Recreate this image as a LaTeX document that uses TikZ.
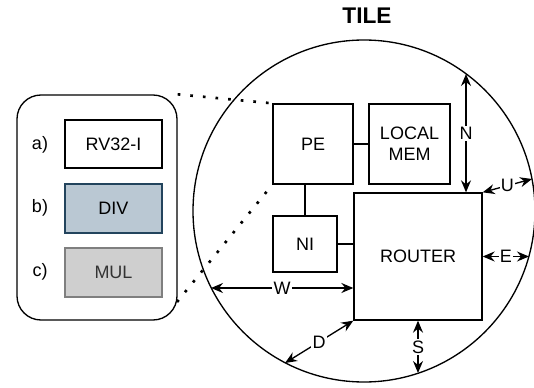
\documentclass[tikz,border=0pt]{standalone}
\usepackage{fontspec}
\setmainfont{Liberation Sans}
\usetikzlibrary{arrows.meta,calc}

\definecolor{divfill}{HTML}{BAC8D3}
\definecolor{divline}{HTML}{23445D}
\definecolor{mulfill}{HTML}{CFCFCF}
\definecolor{mulline}{HTML}{7F7F7F}
\definecolor{multext}{HTML}{333333}

\tikzset{
    blk/.style={draw, line width=1pt, inner sep=0pt, align=center},
    link/.style={line width=1pt, {Stealth[length=9pt,width=7.5pt,inset=3pt]}-{Stealth[length=9pt,width=7.5pt,inset=3pt]}},
    dir/.style={fill=white, inner sep=1pt},
    dots/.style={line width=2pt, dash pattern=on 2pt off 7.5pt}
}

\begin{document}
\begin{tikzpicture}[x=0.75pt, y=-0.75pt, font=\fontsize{13.5}{16}\selectfont]
    \useasboundingbox (0,0) rectangle (534,388);

    \node[circle, draw, line width=1pt, minimum size=256.5pt, inner sep=0pt, outer sep=0pt] (tile) at (364,211) {};
    \node (title) at (367,16) {\fontsize{17}{20}\selectfont\bfseries TILE};

    \node[blk, minimum width=60pt, minimum height=60pt] (pe) at (313,144) {PE};
    \node[blk, minimum width=60.75pt, minimum height=60pt] (mem) at (409.5,144) {LOCAL\\MEM};
    \node[blk, minimum width=48pt, minimum height=42pt] (ni) at (305,244) {NI};
    \node[blk, minimum width=96pt, minimum height=95.25pt] (router) at (418,256.5) {ROUTER};

    \draw[line width=1pt] (pe) -- (mem);
    \draw[line width=1pt] (pe.south -| ni.north) -- (ni.north);
    \draw[line width=1pt] (ni.east) -- (ni.east -| router.west);

    \coordinate (nEnd) at (466,74);
    \coordinate (uEnd) at (532,179);
    \coordinate (eEnd) at (529,256.5);
    \coordinate (sEnd) at (418,373);
    \coordinate (dEnd) at (285,363);
    \coordinate (wEnd) at (211,288);

    \draw[link] (nEnd) -- node[dir] {N} (nEnd |- router.north);
    \draw[link] (router.north east) -- node[dir] {U} (uEnd);
    \draw[link] (router.east) -- node[dir] {E} (eEnd);
    \draw[link] (router.south) -- node[dir] {S} (sEnd);
    \draw[link] (router.south west) -- node[dir] {D} (dEnd);
    \draw[link] (wEnd) -- node[dir] {W} (wEnd -| router.west);

    \node[draw, line width=1pt, rounded corners=18pt, minimum width=120pt, minimum height=168.75pt] (panel) at (97,207.5) {};
    \node[blk, minimum width=72.75pt, minimum height=36pt] (rv) at (113.5,144) {RV32-I};
    \node[blk, fill=divfill, draw=divline, minimum width=72.75pt, minimum height=36.75pt] (div) at (113.5,208.5) {DIV};
    \node[blk, fill=mulfill, draw=mulline, text=multext, minimum width=72.75pt, minimum height=36.75pt] (mul) at (113.5,272.5) {MUL};
    \node (la) at (40,145) {a)};
    \node (lb) at (40,208) {b)};
    \node (lc) at (40,272) {c)};

    \coordinate (zoomLow) at (177,302);
    \draw[dots] (panel.north east) -- (pe.north west);
    \draw[dots] (zoomLow) -- (pe.south west);
\end{tikzpicture}
\end{document}
